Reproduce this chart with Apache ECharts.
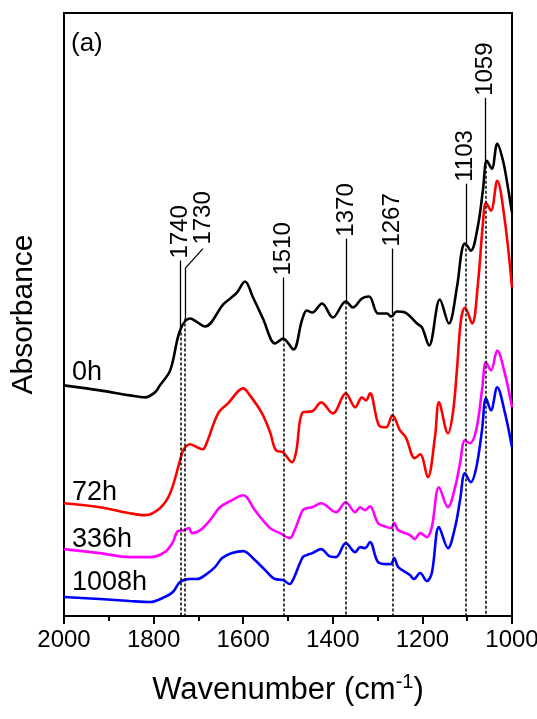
<!DOCTYPE html>
<html><head><meta charset="utf-8">
<script src="https://cdn.jsdelivr.net/npm/echarts@6/dist/echarts.min.js"></script>
<style>html,body{margin:0;padding:0;background:#fff}#c{width:537px;height:719px}</style>
</head><body><div id="c"></div>
<script>
// ---- data (wavenumber, cm-1) and absorbance (arbitrary units, offset stacked) ----
const wn0h = [2000,1920,1853,1819,1797,1786,1763,1741,1719,1685,1645,1629,1614,1596,1578,1556,1529,1518,1511,1488,1469,1458,1446,1424,1400,1371,1355,1335,1319,1299,1279,1270,1257,1239,1212,1201,1185,1161,1141,1123,1112,1105,1092,1076,1065,1056,1045,1033,1020,1009,1000];
const abs0h = [231,226,221,219,224,231,246,286,298,290,312,318,324,335,319,298,273,276,278,267,296,306,304,313,299,315,309,318,320,303,303,300,305,304,293,289,271,317,293,329,366,373,366,391,426,456,448,473,456,429,404];

const wn72h = [2000,1920,1853,1819,1786,1763,1741,1734,1719,1703,1690,1681,1656,1634,1600,1585,1558,1540,1527,1511,1491,1482,1467,1446,1426,1400,1371,1350,1335,1326,1317,1297,1281,1267,1250,1237,1217,1205,1188,1172,1163,1143,1132,1123,1114,1105,1089,1076,1065,1058,1047,1033,1016,1000];
const abs72h = [113,109,103,101,108,123,156,166,172,169,167,174,203,213,228,221,203,184,166,164,154,164,204,205,214,203,223,209,219,216,223,191,189,201,186,179,158,162,139,179,214,183,203,246,296,309,293,333,393,414,406,436,396,329];

const wn336h = [2000,1920,1853,1808,1775,1757,1746,1732,1721,1714,1696,1674,1652,1629,1600,1574,1540,1518,1496,1487,1467,1458,1446,1426,1393,1371,1350,1339,1328,1317,1299,1279,1270,1263,1254,1228,1217,1205,1190,1179,1163,1143,1127,1116,1105,1094,1080,1067,1058,1047,1033,1016,1000];
const abs336h = [67,63,59,59,64,74,85,86,88,83,86,96,109,115,121,106,88,83,78,84,106,108,109,113,104,114,104,109,106,110,93,89,88,93,86,81,77,83,79,89,129,109,129,153,176,173,186,226,254,246,266,243,209];

const wn1008h = [2000,1920,1853,1808,1775,1757,1741,1719,1703,1685,1663,1647,1625,1600,1574,1551,1529,1511,1496,1487,1467,1458,1446,1426,1408,1393,1371,1350,1339,1328,1317,1299,1279,1270,1263,1254,1228,1219,1205,1190,1179,1163,1143,1127,1116,1105,1092,1080,1067,1058,1047,1033,1016,1000];
const abs1008h = [19,17,15,14,19,24,34,37,37,41,49,58,63,65,56,46,37,36,32,38,59,61,63,67,60,59,73,64,69,68,74,54,52,52,58,49,41,37,43,35,43,89,68,89,116,143,134,148,186,218,206,229,204,169];

const seriesNames = ['0h','72h','336h','1008h'];
const seriesColors = ['#000000','#ff0000','#ff00ff','#0000ff'];

// x-axis ticks
const xMin = 1000, xMax = 2000, xStep = 200;

// peak annotations
const annotWn    = [1740,1730,1510,1370,1267,1103,1059];
const annotText  = ['1740','1730','1510','1370','1267','1103','1059'];
const annotTop   = [356,348,339,378,368,433,519];   // start of solid leader
const annotMeet  = [284,298,278,315,303,373,451];   // where it meets the 0h curve
const annotBendWn  = [null,1690,null,null,null,null,null];
const annotBendVal = [null,368,null,null,null,null,null];
const annotLabelWn  = [1740,1690,1510,1370,1267,1103,1059];
const annotLabelVal = [358,372,341,380,370,435,521];

const FONT = 'Liberation Sans, Arial, Helvetica, sans-serif';

const chart = echarts.init(document.getElementById('c'), null, {renderer:'canvas'});

function pairs(w, a){ return w.map((x,i)=>[x, a[i]]); }
const allData = [pairs(wn0h,abs0h), pairs(wn72h,abs72h), pairs(wn336h,abs336h), pairs(wn1008h,abs1008h)];

const markData = [];
annotWn.forEach((w,i)=>{
  markData.push([{coord:[w, annotTop[i]], lineStyle:{type:'solid', width:1.3, color:'#000'}}, {coord:[w, annotMeet[i]]}]);
  markData.push([{coord:[w, annotMeet[i]], lineStyle:{type:[3,2], width:1.5, color:'#000'}}, {coord:[w, 0]}]);
  if (annotBendWn[i] !== null) {
    markData.push([{coord:[w, annotTop[i]], lineStyle:{type:'solid', width:1.3, color:'#000'}}, {coord:[annotBendWn[i], annotBendVal[i]]}]);
  }
});

const series = allData.map((d,i)=>({
  name: seriesNames[i], type:'line', data:d, symbol:'none', smooth:0.35,
  lineStyle:{color:seriesColors[i], width:2.6}, itemStyle:{color:seriesColors[i]},
  z: 3
}));
series.push({
  type:'line', data:[], symbol:'none', silent:true, z:4,
  markLine:{silent:true, symbol:['none','none'], label:{show:false}, animation:false, data:markData}
});

chart.setOption({
  animation:false,
  backgroundColor:'#fff',
  grid:{left:64, right:25, top:13, bottom:103, show:true, borderColor:'#000', borderWidth:2, outerBoundsMode:'none', containLabel:false},
  xAxis:{
    type:'value', min:xMin, max:xMax, interval:xStep, inverse:true,
    axisLine:{show:true, lineStyle:{color:'#000', width:2}},
    axisTick:{show:true, length:8, lineStyle:{color:'#000', width:2}},
    minorTick:{show:true, splitNumber:2, length:5, lineStyle:{color:'#000', width:2}},
    splitLine:{show:false},
    axisLabel:{fontSize:24, color:'#000', margin:12, fontFamily:FONT, showMinLabel:true, showMaxLabel:true, hideOverlap:false, formatter:(v)=>String(v)},
    name:'{a|Wavenumber (cm}{s|-1}{a|)}', nameLocation:'middle', nameGap:56,
    nameTextStyle:{rich:{a:{fontSize:31, fontFamily:FONT, color:'#000'}, s:{fontSize:20, fontFamily:FONT, color:'#000', padding:[0,0,17,0]}}}
  },
  yAxis:{
    type:'value', min:0, max:604,
    axisLine:{show:true, lineStyle:{color:'#000', width:2}},
    axisTick:{show:false}, axisLabel:{show:false}, splitLine:{show:false},
    name:'Absorbance', nameLocation:'middle', nameGap:25,
    nameTextStyle:{fontSize:30, fontFamily:FONT, color:'#000'}
  },
  series: series
});

// text annotations
const g = [];
g.push({type:'text', left:71, top:31, style:{text:'(a)', fontSize:26, fontFamily:FONT, fill:'#000'}});
const curveLabelTop = [359,479,526,569];
seriesNames.forEach((n,i)=>{
  g.push({type:'text', left:72, top:curveLabelTop[i], style:{text:n, fontSize:27, fontFamily:FONT, fill:'#000'}});
});
annotText.forEach((t,i)=>{
  const p = chart.convertToPixel({gridIndex:0}, [annotLabelWn[i], annotLabelVal[i]]);
  g.push({type:'text', x:p[0], y:p[1], rotation:Math.PI/2,
    style:{text:t, fontSize:24, fontFamily:FONT, fill:'#000', align:'left', verticalAlign:'middle', textAlign:'left', textVerticalAlign:'middle'}});
});
chart.setOption({graphic:g});
</script>
</body></html>
